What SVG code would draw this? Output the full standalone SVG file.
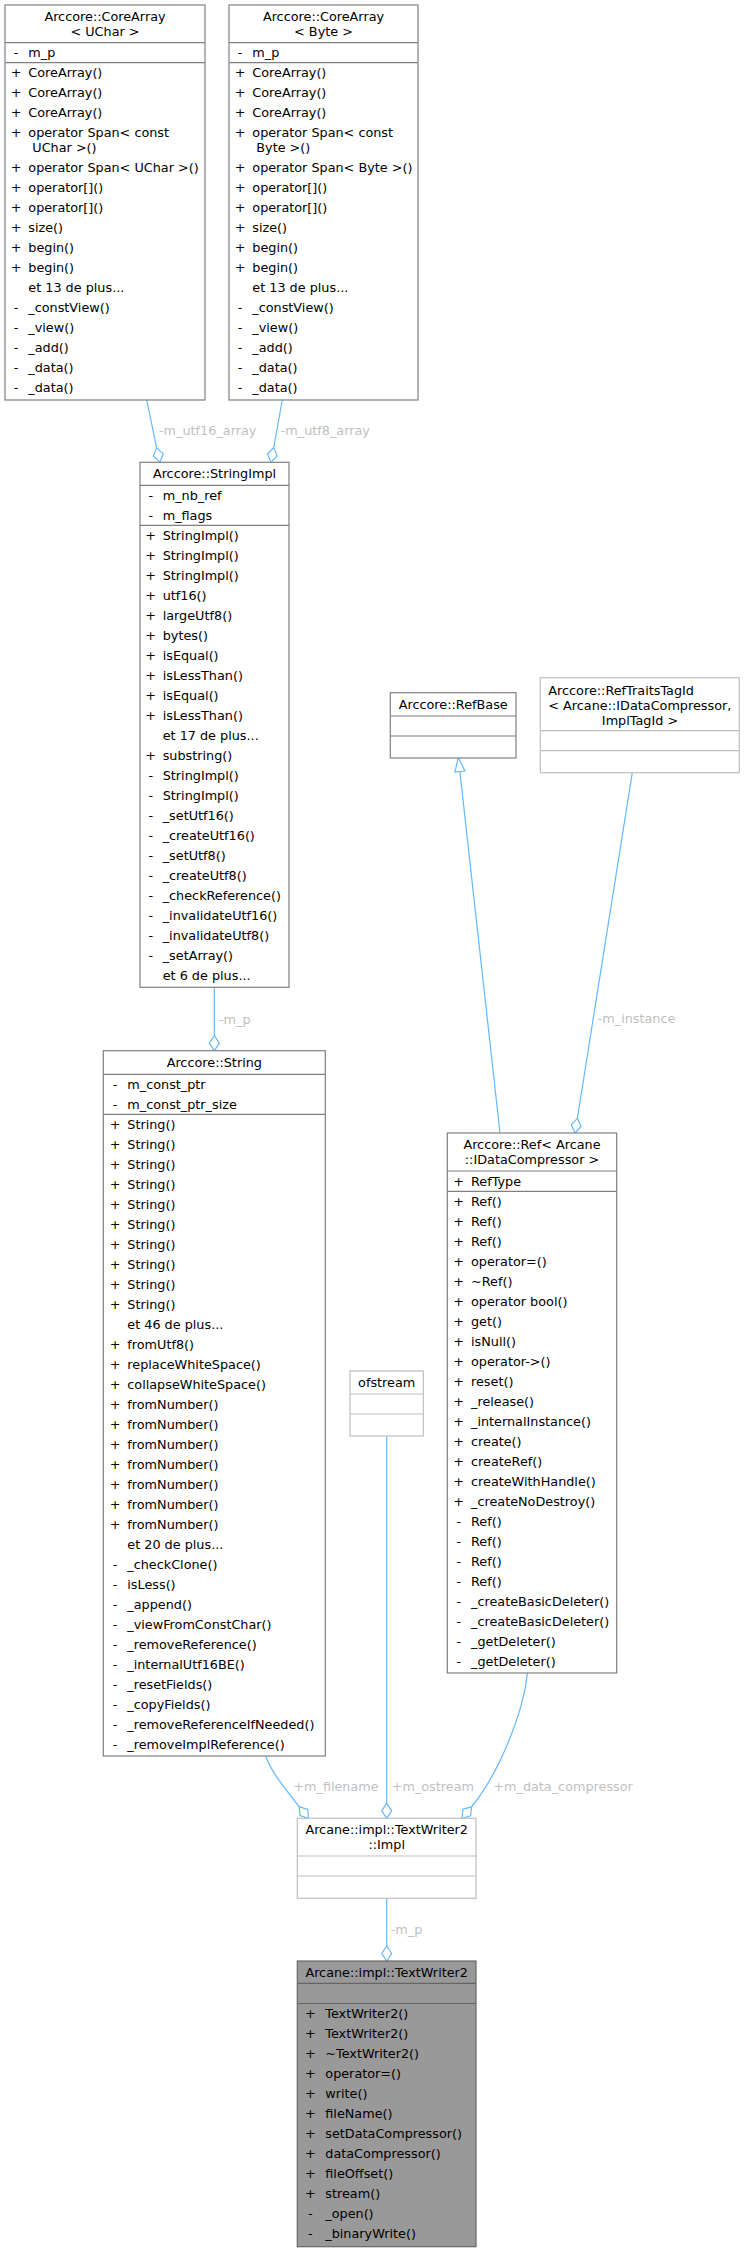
<svg xmlns="http://www.w3.org/2000/svg" width="745" height="2252" viewBox="0 0 745 2252">
<style>
text { font-family: "DejaVu Sans", sans-serif; font-size: 12.8px; fill: #000; }
.c { text-anchor: middle; }
.box { fill: #fff; stroke: #808080; stroke-width: 1.2; }
.lbox { fill: #fff; stroke: #bfbfbf; stroke-width: 1.2; }
.main { fill: #999999; stroke: #666666; stroke-width: 1.2; }
.sep { stroke: #808080; stroke-width: 1.2; }
.lsep { stroke: #bfbfbf; stroke-width: 1.2; }
.msep { stroke: #666666; stroke-width: 1.2; }
.e { stroke: #63b8ff; stroke-width: 1.2; fill: none; }
.ah { stroke: #63b8ff; stroke-width: 1.2; fill: #fff; }
.el { fill: #bfbfbf; }
</style>
<rect width="745" height="2252" fill="#fff"/>

<g id="edges">
  <!-- m_utf16_array -->
  <path class="e" d="M146.7,400 L156.6,447.7"/>
  <polygon class="ah" points="160,462.3 163.2,453.9 156.6,447.7 153.4,456.1"/>
  <text class="el" x="159" y="435">-m_utf16_array</text>
  <!-- m_utf8_array -->
  <path class="e" d="M282.3,400 L273.7,447.5"/>
  <polygon class="ah" points="271,462.3 277.2,455.8 273.7,447.5 267.4,454"/>
  <text class="el" x="280.7" y="435">-m_utf8_array</text>
  <!-- m_p StringImpl -> String -->
  <path class="e" d="M214.3,987.3 L214.3,1035.7"/>
  <polygon class="ah" points="214.3,1050.7 219.3,1043.2 214.3,1035.7 209.3,1043.2"/>
  <text class="el" x="219" y="1023.5">-m_p</text>
  <!-- RefBase inheritance -->
  <path class="e" d="M500,1133 L459.9,771.6"/>
  <polygon class="ah" points="458.3,757.3 464.9,771.05 454.9,772.15"/>
  <!-- m_instance -->
  <path class="e" d="M632.3,772.7 L577.4,1118.2"/>
  <polygon class="ah" points="575,1133 581.1,1126.4 577.4,1118.2 571.3,1124.8"/>
  <text class="el" x="597.7" y="1023">-m_instance</text>
  <!-- m_filename -->
  <path class="e" d="M265.7,1756 C271,1772 288,1792.6 299.2,1806.6"/>
  <polygon class="ah" points="308.5,1818.3 307.75,1809.35 299.2,1806.6 299.95,1815.55"/>
  <text class="el" x="293.3" y="1791.3">+m_filename</text>
  <!-- m_ostream -->
  <path class="e" d="M386.7,1436 L386.7,1803.3"/>
  <polygon class="ah" points="386.7,1818.3 391.7,1810.8 386.7,1803.3 381.7,1810.8"/>
  <text class="el" x="391.7" y="1791.3">+m_ostream</text>
  <!-- m_data_compressor -->
  <path class="e" d="M527.3,1673 C524,1710 500,1772 471.6,1806.75"/>
  <polygon class="ah" points="462,1818.3 470.65,1815.7 471.6,1806.75 462.95,1809.3"/>
  <text class="el" x="493.3" y="1791.3">+m_data_compressor</text>
  <!-- m_p Impl -> TextWriter2 -->
  <path class="e" d="M386.7,1898.3 L386.7,1946"/>
  <polygon class="ah" points="386.7,1961 391.7,1953.5 386.7,1946 381.7,1953.5"/>
  <text class="el" x="390.7" y="1933.5">-m_p</text>
</g>

<g id="node_corearray_uchar">
  <rect class="box" x="5" y="5" width="200" height="395"/>
  <line class="sep" x1="5" y1="42.7" x2="205" y2="42.7"/>
  <line class="sep" x1="5" y1="62.7" x2="205" y2="62.7"/>
  <text class="c" x="105" y="21">Arccore::CoreArray</text>
  <text class="c" x="105" y="36">&lt; UChar &gt;</text>
  <text class="c" x="16" y="56.5">-</text><text x="28.3" y="56.5">m_p</text>
  <text class="c" x="16" y="76.5">+</text><text x="28.3" y="76.5">CoreArray()</text>
  <text class="c" x="16" y="96.5">+</text><text x="28.3" y="96.5">CoreArray()</text>
  <text class="c" x="16" y="116.5">+</text><text x="28.3" y="116.5">CoreArray()</text>
  <text class="c" x="16" y="136.5">+</text><text x="28.3" y="136.5">operator Span&lt; const</text>
  <text x="32.3" y="151.5">UChar &gt;()</text>
  <text class="c" x="16" y="171.5">+</text><text x="28.3" y="171.5">operator Span&lt; UChar &gt;()</text>
  <text class="c" x="16" y="191.5">+</text><text x="28.3" y="191.5">operator[]()</text>
  <text class="c" x="16" y="211.5">+</text><text x="28.3" y="211.5">operator[]()</text>
  <text class="c" x="16" y="231.5">+</text><text x="28.3" y="231.5">size()</text>
  <text class="c" x="16" y="251.5">+</text><text x="28.3" y="251.5">begin()</text>
  <text class="c" x="16" y="271.5">+</text><text x="28.3" y="271.5">begin()</text>
  <text x="28.3" y="291.5">et 13 de plus...</text>
  <text class="c" x="16" y="311.5">-</text><text x="28.3" y="311.5">_constView()</text>
  <text class="c" x="16" y="331.5">-</text><text x="28.3" y="331.5">_view()</text>
  <text class="c" x="16" y="351.5">-</text><text x="28.3" y="351.5">_add()</text>
  <text class="c" x="16" y="371.5">-</text><text x="28.3" y="371.5">_data()</text>
  <text class="c" x="16" y="391.5">-</text><text x="28.3" y="391.5">_data()</text>
</g>

<g id="node_corearray_byte">
  <rect class="box" x="229" y="5" width="189" height="395"/>
  <line class="sep" x1="229" y1="42.7" x2="418" y2="42.7"/>
  <line class="sep" x1="229" y1="62.7" x2="418" y2="62.7"/>
  <text class="c" x="323.5" y="21">Arccore::CoreArray</text>
  <text class="c" x="323.5" y="36">&lt; Byte &gt;</text>
  <text class="c" x="240" y="56.5">-</text><text x="252.3" y="56.5">m_p</text>
  <text class="c" x="240" y="76.5">+</text><text x="252.3" y="76.5">CoreArray()</text>
  <text class="c" x="240" y="96.5">+</text><text x="252.3" y="96.5">CoreArray()</text>
  <text class="c" x="240" y="116.5">+</text><text x="252.3" y="116.5">CoreArray()</text>
  <text class="c" x="240" y="136.5">+</text><text x="252.3" y="136.5">operator Span&lt; const</text>
  <text x="256.3" y="151.5">Byte &gt;()</text>
  <text class="c" x="240" y="171.5">+</text><text x="252.3" y="171.5">operator Span&lt; Byte &gt;()</text>
  <text class="c" x="240" y="191.5">+</text><text x="252.3" y="191.5">operator[]()</text>
  <text class="c" x="240" y="211.5">+</text><text x="252.3" y="211.5">operator[]()</text>
  <text class="c" x="240" y="231.5">+</text><text x="252.3" y="231.5">size()</text>
  <text class="c" x="240" y="251.5">+</text><text x="252.3" y="251.5">begin()</text>
  <text class="c" x="240" y="271.5">+</text><text x="252.3" y="271.5">begin()</text>
  <text x="252.3" y="291.5">et 13 de plus...</text>
  <text class="c" x="240" y="311.5">-</text><text x="252.3" y="311.5">_constView()</text>
  <text class="c" x="240" y="331.5">-</text><text x="252.3" y="331.5">_view()</text>
  <text class="c" x="240" y="351.5">-</text><text x="252.3" y="351.5">_add()</text>
  <text class="c" x="240" y="371.5">-</text><text x="252.3" y="371.5">_data()</text>
  <text class="c" x="240" y="391.5">-</text><text x="252.3" y="391.5">_data()</text>
</g>

<g id="node_stringimpl">
  <rect class="box" x="140" y="462.3" width="149" height="525"/>
  <line class="sep" x1="140" y1="485.3" x2="289" y2="485.3"/>
  <line class="sep" x1="140" y1="525.3" x2="289" y2="525.3"/>
  <text class="c" x="214.5" y="478.3">Arccore::StringImpl</text>
  <text class="c" x="150.7" y="499.8">-</text><text x="162.7" y="499.8">m_nb_ref</text>
  <text class="c" x="150.7" y="519.8">-</text><text x="162.7" y="519.8">m_flags</text>
  <text class="c" x="150.7" y="539.8">+</text><text x="162.7" y="539.8">StringImpl()</text>
  <text class="c" x="150.7" y="559.8">+</text><text x="162.7" y="559.8">StringImpl()</text>
  <text class="c" x="150.7" y="579.8">+</text><text x="162.7" y="579.8">StringImpl()</text>
  <text class="c" x="150.7" y="599.8">+</text><text x="162.7" y="599.8">utf16()</text>
  <text class="c" x="150.7" y="619.8">+</text><text x="162.7" y="619.8">largeUtf8()</text>
  <text class="c" x="150.7" y="639.8">+</text><text x="162.7" y="639.8">bytes()</text>
  <text class="c" x="150.7" y="659.8">+</text><text x="162.7" y="659.8">isEqual()</text>
  <text class="c" x="150.7" y="679.8">+</text><text x="162.7" y="679.8">isLessThan()</text>
  <text class="c" x="150.7" y="699.8">+</text><text x="162.7" y="699.8">isEqual()</text>
  <text class="c" x="150.7" y="719.8">+</text><text x="162.7" y="719.8">isLessThan()</text>
  <text x="162.7" y="739.8">et 17 de plus...</text>
  <text class="c" x="150.7" y="759.8">+</text><text x="162.7" y="759.8">substring()</text>
  <text class="c" x="150.7" y="779.8">-</text><text x="162.7" y="779.8">StringImpl()</text>
  <text class="c" x="150.7" y="799.8">-</text><text x="162.7" y="799.8">StringImpl()</text>
  <text class="c" x="150.7" y="819.8">-</text><text x="162.7" y="819.8">_setUtf16()</text>
  <text class="c" x="150.7" y="839.8">-</text><text x="162.7" y="839.8">_createUtf16()</text>
  <text class="c" x="150.7" y="859.8">-</text><text x="162.7" y="859.8">_setUtf8()</text>
  <text class="c" x="150.7" y="879.8">-</text><text x="162.7" y="879.8">_createUtf8()</text>
  <text class="c" x="150.7" y="899.8">-</text><text x="162.7" y="899.8">_checkReference()</text>
  <text class="c" x="150.7" y="919.8">-</text><text x="162.7" y="919.8">_invalidateUtf16()</text>
  <text class="c" x="150.7" y="939.8">-</text><text x="162.7" y="939.8">_invalidateUtf8()</text>
  <text class="c" x="150.7" y="959.8">-</text><text x="162.7" y="959.8">_setArray()</text>
  <text x="162.7" y="979.8">et 6 de plus...</text>
</g>

<g id="node_refbase">
  <rect class="box" x="390.3" y="692.7" width="125.7" height="65.3"/>
  <line class="sep" x1="390.3" y1="716" x2="516" y2="716"/>
  <line class="sep" x1="390.3" y1="736" x2="516" y2="736"/>
  <text class="c" x="453.2" y="708.7">Arccore::RefBase</text>
</g>

<g id="node_reftraitstagid">
  <rect class="lbox" x="540.3" y="677.7" width="199" height="95"/>
  <line class="lsep" x1="540.3" y1="730.7" x2="739.3" y2="730.7"/>
  <line class="lsep" x1="540.3" y1="750.7" x2="739.3" y2="750.7"/>
  <text x="548.3" y="694.5">Arccore::RefTraitsTagId</text>
  <text x="548.3" y="709.5">&lt; Arcane::IDataCompressor,</text>
  <text class="c" x="640" y="724.5">ImplTagId &gt;</text>
</g>

<g id="node_string">
  <rect class="box" x="103.3" y="1050.7" width="222" height="705.3"/>
  <line class="sep" x1="103.3" y1="1074.3" x2="325.3" y2="1074.3"/>
  <line class="sep" x1="103.3" y1="1114.3" x2="325.3" y2="1114.3"/>
  <text class="c" x="214.3" y="1066.7">Arccore::String</text>
  <text class="c" x="115" y="1088.7">-</text><text x="127.3" y="1088.7">m_const_ptr</text>
  <text class="c" x="115" y="1108.7">-</text><text x="127.3" y="1108.7">m_const_ptr_size</text>
  <text class="c" x="115" y="1128.7">+</text><text x="127.3" y="1128.7">String()</text>
  <text class="c" x="115" y="1148.7">+</text><text x="127.3" y="1148.7">String()</text>
  <text class="c" x="115" y="1168.7">+</text><text x="127.3" y="1168.7">String()</text>
  <text class="c" x="115" y="1188.7">+</text><text x="127.3" y="1188.7">String()</text>
  <text class="c" x="115" y="1208.7">+</text><text x="127.3" y="1208.7">String()</text>
  <text class="c" x="115" y="1228.7">+</text><text x="127.3" y="1228.7">String()</text>
  <text class="c" x="115" y="1248.7">+</text><text x="127.3" y="1248.7">String()</text>
  <text class="c" x="115" y="1268.7">+</text><text x="127.3" y="1268.7">String()</text>
  <text class="c" x="115" y="1288.7">+</text><text x="127.3" y="1288.7">String()</text>
  <text class="c" x="115" y="1308.7">+</text><text x="127.3" y="1308.7">String()</text>
  <text x="127.3" y="1328.7">et 46 de plus...</text>
  <text class="c" x="115" y="1348.7">+</text><text x="127.3" y="1348.7">fromUtf8()</text>
  <text class="c" x="115" y="1368.7">+</text><text x="127.3" y="1368.7">replaceWhiteSpace()</text>
  <text class="c" x="115" y="1388.7">+</text><text x="127.3" y="1388.7">collapseWhiteSpace()</text>
  <text class="c" x="115" y="1408.7">+</text><text x="127.3" y="1408.7">fromNumber()</text>
  <text class="c" x="115" y="1428.7">+</text><text x="127.3" y="1428.7">fromNumber()</text>
  <text class="c" x="115" y="1448.7">+</text><text x="127.3" y="1448.7">fromNumber()</text>
  <text class="c" x="115" y="1468.7">+</text><text x="127.3" y="1468.7">fromNumber()</text>
  <text class="c" x="115" y="1488.7">+</text><text x="127.3" y="1488.7">fromNumber()</text>
  <text class="c" x="115" y="1508.7">+</text><text x="127.3" y="1508.7">fromNumber()</text>
  <text class="c" x="115" y="1528.7">+</text><text x="127.3" y="1528.7">fromNumber()</text>
  <text x="127.3" y="1548.7">et 20 de plus...</text>
  <text class="c" x="115" y="1568.7">-</text><text x="127.3" y="1568.7">_checkClone()</text>
  <text class="c" x="115" y="1588.7">-</text><text x="127.3" y="1588.7">isLess()</text>
  <text class="c" x="115" y="1608.7">-</text><text x="127.3" y="1608.7">_append()</text>
  <text class="c" x="115" y="1628.7">-</text><text x="127.3" y="1628.7">_viewFromConstChar()</text>
  <text class="c" x="115" y="1648.7">-</text><text x="127.3" y="1648.7">_removeReference()</text>
  <text class="c" x="115" y="1668.7">-</text><text x="127.3" y="1668.7">_internalUtf16BE()</text>
  <text class="c" x="115" y="1688.7">-</text><text x="127.3" y="1688.7">_resetFields()</text>
  <text class="c" x="115" y="1708.7">-</text><text x="127.3" y="1708.7">_copyFields()</text>
  <text class="c" x="115" y="1728.7">-</text><text x="127.3" y="1728.7">_removeReferenceIfNeeded()</text>
  <text class="c" x="115" y="1748.7">-</text><text x="127.3" y="1748.7">_removeImplReference()</text>
</g>

<g id="node_ofstream">
  <rect class="lbox" x="350" y="1371" width="73.3" height="65"/>
  <line class="lsep" x1="350" y1="1394" x2="423.3" y2="1394"/>
  <line class="lsep" x1="350" y1="1414" x2="423.3" y2="1414"/>
  <text class="c" x="386.7" y="1387">ofstream</text>
</g>

<g id="node_ref">
  <rect class="box" x="447.3" y="1133" width="169.4" height="540"/>
  <line class="sep" x1="447.3" y1="1171" x2="616.7" y2="1171"/>
  <line class="sep" x1="447.3" y1="1191.3" x2="616.7" y2="1191.3"/>
  <text class="c" x="532" y="1149">Arccore::Ref&lt; Arcane</text>
  <text class="c" x="532" y="1164">::IDataCompressor &gt;</text>
  <text class="c" x="458.7" y="1185.5">+</text><text x="471" y="1185.5">RefType</text>
  <text class="c" x="458.7" y="1205.5">+</text><text x="471" y="1205.5">Ref()</text>
  <text class="c" x="458.7" y="1225.5">+</text><text x="471" y="1225.5">Ref()</text>
  <text class="c" x="458.7" y="1245.5">+</text><text x="471" y="1245.5">Ref()</text>
  <text class="c" x="458.7" y="1265.5">+</text><text x="471" y="1265.5">operator=()</text>
  <text class="c" x="458.7" y="1285.5">+</text><text x="471" y="1285.5">~Ref()</text>
  <text class="c" x="458.7" y="1305.5">+</text><text x="471" y="1305.5">operator bool()</text>
  <text class="c" x="458.7" y="1325.5">+</text><text x="471" y="1325.5">get()</text>
  <text class="c" x="458.7" y="1345.5">+</text><text x="471" y="1345.5">isNull()</text>
  <text class="c" x="458.7" y="1365.5">+</text><text x="471" y="1365.5">operator-&gt;()</text>
  <text class="c" x="458.7" y="1385.5">+</text><text x="471" y="1385.5">reset()</text>
  <text class="c" x="458.7" y="1405.5">+</text><text x="471" y="1405.5">_release()</text>
  <text class="c" x="458.7" y="1425.5">+</text><text x="471" y="1425.5">_internalInstance()</text>
  <text class="c" x="458.7" y="1445.5">+</text><text x="471" y="1445.5">create()</text>
  <text class="c" x="458.7" y="1465.5">+</text><text x="471" y="1465.5">createRef()</text>
  <text class="c" x="458.7" y="1485.5">+</text><text x="471" y="1485.5">createWithHandle()</text>
  <text class="c" x="458.7" y="1505.5">+</text><text x="471" y="1505.5">_createNoDestroy()</text>
  <text class="c" x="458.7" y="1525.5">-</text><text x="471" y="1525.5">Ref()</text>
  <text class="c" x="458.7" y="1545.5">-</text><text x="471" y="1545.5">Ref()</text>
  <text class="c" x="458.7" y="1565.5">-</text><text x="471" y="1565.5">Ref()</text>
  <text class="c" x="458.7" y="1585.5">-</text><text x="471" y="1585.5">Ref()</text>
  <text class="c" x="458.7" y="1605.5">-</text><text x="471" y="1605.5">_createBasicDeleter()</text>
  <text class="c" x="458.7" y="1625.5">-</text><text x="471" y="1625.5">_createBasicDeleter()</text>
  <text class="c" x="458.7" y="1645.5">-</text><text x="471" y="1645.5">_getDeleter()</text>
  <text class="c" x="458.7" y="1665.5">-</text><text x="471" y="1665.5">_getDeleter()</text>
</g>

<g id="node_impl">
  <rect class="lbox" x="297.3" y="1818.3" width="178.7" height="80"/>
  <line class="lsep" x1="297.3" y1="1856" x2="476" y2="1856"/>
  <line class="lsep" x1="297.3" y1="1876" x2="476" y2="1876"/>
  <text class="c" x="386.7" y="1834.3">Arcane::impl::TextWriter2</text>
  <text class="c" x="386.7" y="1849.3">::Impl</text>
</g>

<g id="node_textwriter2">
  <rect class="main" x="297.3" y="1961" width="178.7" height="285.7"/>
  <line class="msep" x1="297.3" y1="1983.3" x2="476" y2="1983.3"/>
  <line class="msep" x1="297.3" y1="2003.5" x2="476" y2="2003.5"/>
  <text class="c" x="386.7" y="1977.3">Arcane::impl::TextWriter2</text>
  <text class="c" x="310.3" y="2017.5">+</text><text x="325.3" y="2017.5">TextWriter2()</text>
  <text class="c" x="310.3" y="2037.5">+</text><text x="325.3" y="2037.5">TextWriter2()</text>
  <text class="c" x="310.3" y="2057.5">+</text><text x="325.3" y="2057.5">~TextWriter2()</text>
  <text class="c" x="310.3" y="2077.5">+</text><text x="325.3" y="2077.5">operator=()</text>
  <text class="c" x="310.3" y="2097.5">+</text><text x="325.3" y="2097.5">write()</text>
  <text class="c" x="310.3" y="2117.5">+</text><text x="325.3" y="2117.5">fileName()</text>
  <text class="c" x="310.3" y="2137.5">+</text><text x="325.3" y="2137.5">setDataCompressor()</text>
  <text class="c" x="310.3" y="2157.5">+</text><text x="325.3" y="2157.5">dataCompressor()</text>
  <text class="c" x="310.3" y="2177.5">+</text><text x="325.3" y="2177.5">fileOffset()</text>
  <text class="c" x="310.3" y="2197.5">+</text><text x="325.3" y="2197.5">stream()</text>
  <text class="c" x="310.3" y="2217.5">-</text><text x="325.3" y="2217.5">_open()</text>
  <text class="c" x="310.3" y="2237.5">-</text><text x="325.3" y="2237.5">_binaryWrite()</text>
</g>
</svg>
